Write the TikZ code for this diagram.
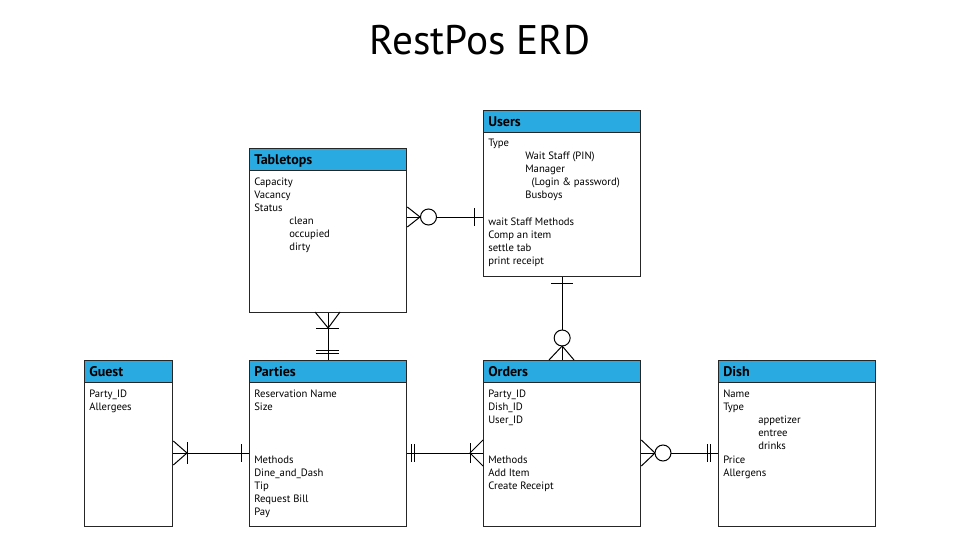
\documentclass[tikz,border=0pt]{standalone}
\usepackage{fontspec}
\setmainfont{PT Sans}
\definecolor{hdrblue}{RGB}{41,171,226}
\tikzset{
  entity/.style={draw=black!85, line width=1pt, anchor=north west, minimum width=117.75pt, inner sep=0pt},
  header/.style={draw=black!85, fill=hdrblue, line width=1pt, anchor=north west, minimum width=117.75pt, minimum height=16.5pt, inner sep=0pt},
  hdrtext/.style={anchor=base west, inner sep=0pt, font=\fontsize{10.5}{12}\selectfont\bfseries},
  field/.style={anchor=base west, inner sep=0pt, font=\fontsize{8}{9}\selectfont},
  rel/.style={black, line width=0.75pt},
  ring/.style={rel, fill=white}
}
\begin{document}
\begin{tikzpicture}[x=0.75pt, y=-0.75pt]
\useasboundingbox (0,0) rectangle (960,560);
\node[font=\fontsize{31}{34}\selectfont] (title) at (480,40) {RestPos ERD};

% Tabletops
\node[header] (tabletops-h) at (249,148) {};
\node[entity, minimum height=123pt] (tabletops) at (249,148) {};
\node[hdrtext] (tabletops-t) at (254,164) {Tabletops};
\foreach \d/\t [count=\i from 0] in {0/Capacity,0/Vacancy,0/Status,1/clean,1/occupied,1/dirty}
  \node[field] (tabletops-\i) at (254+35*\d, 185+13*\i) {\t};

% Users
\node[header] (users-h) at (483,110) {};
\node[entity, minimum height=124.5pt] (users) at (483,110) {};
\node[hdrtext] (users-t) at (488,126) {Users};
\foreach \d/\t [count=\i from 0] in {0/Type,1/Wait Staff (PIN),1/Manager,1.17/(Login \& password),1/Busboys,0/{},
    0/wait Staff Methods,0/Comp an item,0/settle tab,0/print receipt}
  \node[field] (users-\i) at (488+37*\d, 146+13.2*\i) {\t};

% Guest
\node[header, minimum width=66pt] (guest-h) at (84,360) {};
\node[entity, minimum width=66pt, minimum height=124.5pt] (guest) at (84,360) {};
\node[hdrtext] (guest-t) at (89,376) {Guest};
\foreach \t [count=\i from 0] in {Party\_ID,Allergees}
  \node[field] (guest-\i) at (89, 397+13*\i) {\t};

% Parties
\node[header] (parties-h) at (249,360) {};
\node[entity, minimum height=124.5pt] (parties) at (249,360) {};
\node[hdrtext] (parties-t) at (254,376) {Parties};
\foreach \t [count=\i from 0] in {Reservation Name,Size,{},{},{},Methods,Dine\_and\_Dash,Tip,Request Bill,Pay}
  \node[field] (parties-\i) at (254, 397+13.2*\i) {\t};

% Orders
\node[header] (orders-h) at (483,360) {};
\node[entity, minimum height=124.5pt] (orders) at (483,360) {};
\node[hdrtext] (orders-t) at (488,376) {Orders};
\foreach \t [count=\i from 0] in {Party\_ID,Dish\_ID,User\_ID,{},{},Methods,Add Item,Create Receipt}
  \node[field] (orders-\i) at (488, 397+13.2*\i) {\t};

% Dish
\node[header] (dish-h) at (718,360) {};
\node[entity, minimum height=124.5pt] (dish) at (718,360) {};
\node[hdrtext] (dish-t) at (723,376) {Dish};
\foreach \d/\t [count=\i from 0] in {0/Name,0/Type,1/appetizer,1/entree,1/drinks,0/Price,0/Allergens}
  \node[field] (dish-\i) at (723+35*\d, 397+13.2*\i) {\t};

% Tabletops -- Users
\draw[rel] (tabletops.east |- 0,217) -- (users.west |- 0,217);
\draw[rel] (tabletops.east |- 0,207) -- (420,217) -- (tabletops.east |- 0,227);
\filldraw[ring] (428.5,217) circle[radius=8];
\draw[rel] (474,208) -- (474,226);

% Tabletops -- Parties
\draw[rel] (tabletops.south) -- (parties.north);
\draw[rel] (315,312) -- (tabletops.south |- 0,328) -- (340,312);
\draw[rel] (316,328) -- (339,328);
\draw[rel] (316,350) -- (339,350) (316,353.5) -- (339,353.5);

% Users -- Orders
\draw[rel] (users.south) -- (orders.north);
\draw[rel] (551,283) -- (573,283);
\filldraw[ring] (users.south |- 0,338) circle[radius=8];
\draw[rel] (549,360) -- (users.south |- 0,346) -- (574,360);

% Guest -- Parties
\draw[rel] (guest.east |- 0,453) -- (parties.west |- 0,453);
\draw[rel] (guest.east |- 0,441) -- (187,453) -- (guest.east |- 0,465);
\draw[rel] (187,442) -- (187,464);
\draw[rel] (241,444) -- (241,462);

% Parties -- Orders
\draw[rel] (parties.east |- 0,453) -- (orders.west |- 0,453);
\draw[rel] (411,444) -- (411,462) (414.5,444) -- (414.5,462);
\draw[rel] (orders.west |- 0,440) -- (470,453) -- (orders.west |- 0,466);
\draw[rel] (470,443) -- (470,463);

% Orders -- Dish
\draw[rel] (orders.east |- 0,453) -- (dish.west |- 0,453);
\draw[rel] (orders.east |- 0,440) -- (655,453) -- (orders.east |- 0,466);
\filldraw[ring] (663,453) circle[radius=8];
\draw[rel] (707,444) -- (707,462) (710.5,444) -- (710.5,462);
\end{tikzpicture}
\end{document}
